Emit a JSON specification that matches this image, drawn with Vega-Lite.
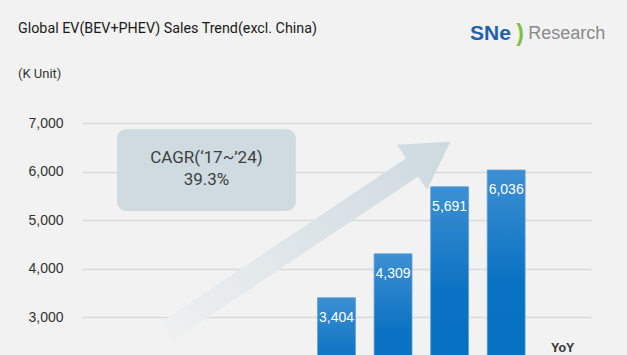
{
  "$schema": "https://vega.github.io/schema/vega-lite/v6.json",
  "width": 509,
  "height": 255,
  "autosize": "none",
  "padding": {"left": 82, "top": 100, "right": 36, "bottom": 0},
  "background": "#f2f2f2",
  "config": {"view": {"stroke": null}, "font": "Liberation Sans"},
  "title": {
    "text": "Global EV(BEV+PHEV) Sales Trend(excl. China)",
    "subtitle": "(K Unit)",
    "anchor": "start",
    "frame": "group",
    "dx": -64,
    "dy": 78,
    "offset": 20,
    "font": "Roboto",
    "fontSize": 14.3,
    "fontWeight": "normal",
    "color": "#1a1a1a",
    "subtitleFont": "Roboto",
    "subtitleFontSize": 13,
    "subtitleColor": "#333333",
    "subtitlePadding": 32
  },
  "layer": [
    {
      "data": {"values": [
        {"shape": "arrow", "px": 2020.5, "py": 4659}
      ]},
      "mark": {
        "type": "point",
        "shape": "M-1,-0.064L0.731,-0.064L0.731,-0.158L1,0L0.731,0.158L0.731,0.064L-1,0.064Z",
        "size": 116964,
        "angle": 326.2,
        "filled": true,
        "opacity": 1,
        "strokeWidth": 0,
        "fill": {"gradient": "linear", "x1": 0, "y1": 0, "x2": 1, "y2": 0,
          "stops": [
            {"offset": 0, "color": "#eef0f1"},
            {"offset": 0.5, "color": "#dde4e8"},
            {"offset": 1, "color": "#cdd9e0"}
          ]}
      },
      "encoding": {
        "x": {"field": "px", "type": "quantitative", "scale": {"domain": [2016.5, 2025.5], "nice": false, "zero": false}, "axis": null},
        "y": {"field": "py", "type": "quantitative"}
      }
    },
    {
      "data": {"values": [
        {"x1": 2017.12, "x2": 2020.28, "y1": 6877, "y2": 5193}
      ]},
      "mark": {"type": "rect", "cornerRadius": 9, "fill": "#cfdae1"},
      "encoding": {
        "x": {"field": "x1", "type": "quantitative", "scale": {"domain": [2016.5, 2025.5], "nice": false, "zero": false}, "axis": null},
        "x2": {"field": "x2"},
        "y": {"field": "y1", "type": "quantitative"},
        "y2": {"field": "y2"}
      }
    },
    {
      "data": {"values": [
        {"t": "CAGR(‘17~’24)", "px": 2018.7, "py": 6281},
        {"t": "39.3%", "px": 2018.7, "py": 5830}
      ]},
      "mark": {"type": "text", "font": "Roboto", "fontSize": 17, "color": "#3f3f3f", "baseline": "middle", "align": "center"},
      "encoding": {
        "x": {"field": "px", "type": "quantitative", "scale": {"domain": [2016.5, 2025.5], "nice": false, "zero": false}, "axis": null},
        "y": {"field": "py", "type": "quantitative"},
        "text": {"field": "t"}
      }
    },
    {
      "data": {"values": [
        {"t": "SNe", "px": 2023.36, "py": 8841}
      ]},
      "mark": {"type": "text", "fontSize": 21, "fontWeight": "bold", "color": "#1f5fae", "baseline": "middle", "align": "left"},
      "encoding": {
        "x": {"field": "px", "type": "quantitative", "scale": {"domain": [2016.5, 2025.5], "nice": false, "zero": false}, "axis": null},
        "y": {"field": "py", "type": "quantitative"},
        "text": {"field": "t"}
      }
    },
    {
      "data": {"values": [
        {"t": ")", "px": 2024.18, "py": 8841}
      ]},
      "mark": {"type": "text", "fontSize": 23, "fontWeight": "bold", "color": "#7cc242", "baseline": "middle", "align": "left"},
      "encoding": {
        "x": {"field": "px", "type": "quantitative", "scale": {"domain": [2016.5, 2025.5], "nice": false, "zero": false}, "axis": null},
        "y": {"field": "py", "type": "quantitative"},
        "text": {"field": "t"}
      }
    },
    {
      "data": {"values": [
        {"t": "Research", "px": 2024.39, "py": 8841}
      ]},
      "mark": {"type": "text", "fontSize": 18, "color": "#8a8a8a", "baseline": "middle", "align": "left"},
      "encoding": {
        "x": {"field": "px", "type": "quantitative", "scale": {"domain": [2016.5, 2025.5], "nice": false, "zero": false}, "axis": null},
        "y": {"field": "py", "type": "quantitative"},
        "text": {"field": "t"}
      }
    },
    {
      "layer": [
        {
          "data": {"values": [
            {"year": "2021", "value": 3404},
            {"year": "2022", "value": 4309},
            {"year": "2023", "value": 5691},
            {"year": "2024", "value": 6036}
          ]},
          "mark": {
            "type": "bar",
            "clip": true,
            "stroke": "#5d9fd8",
            "strokeWidth": 0.8,
            "fill": {"gradient": "linear", "x1": 0, "y1": 0, "x2": 0, "y2": 1,
              "stops": [
                {"offset": 0, "color": "#3d8fd2"},
                {"offset": 0.38, "color": "#0a72c2"},
                {"offset": 1, "color": "#0070c0"}
              ]}
          },
          "encoding": {
            "x": {"field": "year", "type": "nominal",
              "scale": {"domain": ["2017", "2018", "2019", "2020", "2021", "2022", "2023", "2024", "YoY"], "paddingInner": 0.33, "paddingOuter": 0.165},
              "axis": null},
            "y": {"field": "value", "type": "quantitative",
              "scale": {"domain": [2223, 7480], "nice": false, "zero": false},
              "axis": {"values": [3000, 4000, 5000, 6000, 7000], "format": ",d", "title": null,
                "domain": false, "ticks": false, "labelFontSize": 14, "labelColor": "#333333",
                "labelPadding": 19, "gridColor": "#dadada", "gridWidth": 1.5}},
            "y2": {"datum": 0}
          }
        },
        {
          "data": {"values": [
            {"year": "2021", "value": 3404},
            {"year": "2022", "value": 4309},
            {"year": "2023", "value": 5691},
            {"year": "2024", "value": 6036}
          ]},
          "mark": {"type": "text", "color": "#ffffff", "fontSize": 14, "baseline": "middle", "dy": 20},
          "encoding": {
            "x": {"field": "year", "type": "nominal", "axis": null},
            "y": {"field": "value", "type": "quantitative"},
            "text": {"field": "value", "type": "quantitative", "format": ",d"}
          }
        },
        {
          "data": {"values": [{"year": "YoY", "value": 2367, "t": "YoY"}]},
          "mark": {"type": "text", "fontSize": 12.5, "fontWeight": "bold", "color": "#333333", "baseline": "middle"},
          "encoding": {
            "x": {"field": "year", "type": "nominal", "axis": null},
            "y": {"field": "value", "type": "quantitative"},
            "text": {"field": "t"}
          }
        }
      ]
    }
  ],
  "resolve": {"scale": {"x": "independent"}}
}
